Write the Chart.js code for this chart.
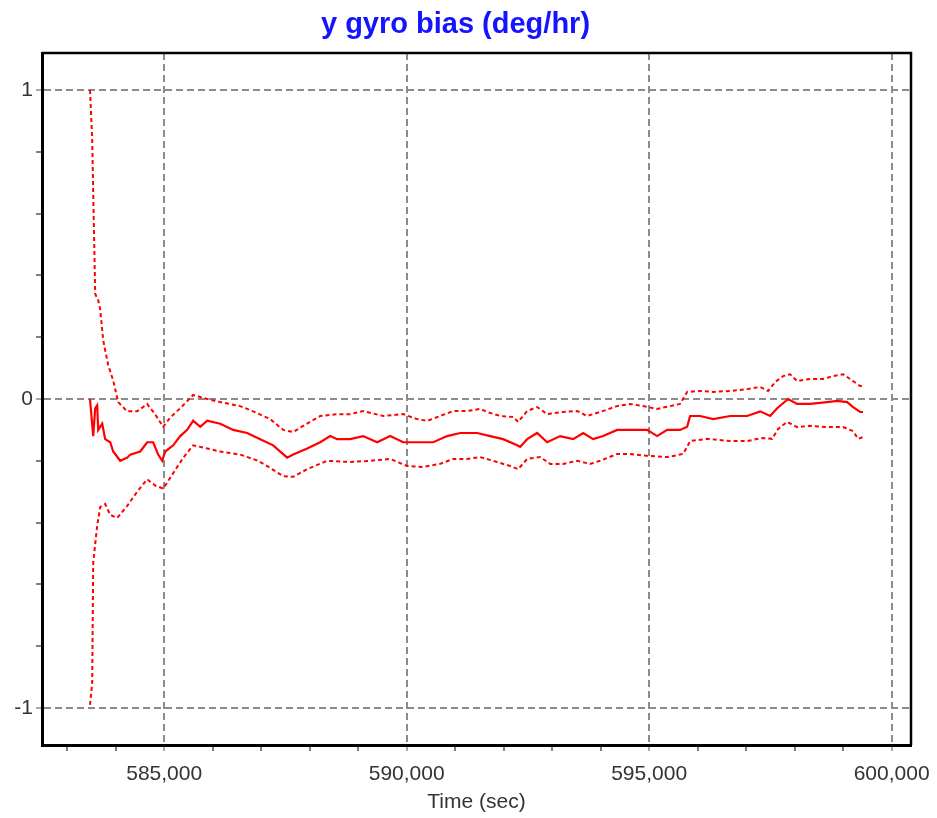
<!DOCTYPE html>
<html>
<head>
<meta charset="utf-8">
<title>y gyro bias</title>
<script src="https://cdn.jsdelivr.net/npm/chart.js@4/dist/chart.umd.min.js"></script>
<style>
  html, body { margin: 0; padding: 0; background: #fff; }
  #wrap { width: 937px; height: 818px; }
</style>
</head>
<body>
<div id="wrap"><canvas id="bias-chart" width="937" height="818"></canvas></div>
<script>
// Time stamps (sec) and bias estimate (deg/hr)
const meanTime = [583470, 583536, 583577, 583618, 583639, 583722, 583783, 583887, 583948, 584093,
  584237, 584299, 584505, 584649, 584773, 584876, 584959, 585021, 585186, 585330,
  585474, 585598, 585742, 585887, 586155, 586423, 586711, 586980, 587248, 587536,
  587660, 587949, 588217, 588423, 588567, 588835, 589103, 589392, 589660, 589928,
  590217, 590547, 590835, 591104, 591454, 591722, 591990, 592279, 592340, 592485,
  592691, 592897, 593165, 593433, 593640, 593846, 594052, 594340, 594608, 594959,
  595165, 595371, 595639, 595784, 595845, 596052, 596320, 596671, 597021, 597290,
  597495, 597640, 597866, 598052, 598320, 598671, 598877, 599083, 599206, 599351, 599412];
const meanBias = [0.0, -0.12, -0.03, -0.02, -0.10, -0.08, -0.13, -0.14, -0.17, -0.20,
  -0.19, -0.18, -0.17, -0.14, -0.14, -0.18, -0.20, -0.17, -0.15, -0.12,
  -0.10, -0.07, -0.09, -0.07, -0.08, -0.10, -0.11, -0.13, -0.15, -0.19,
  -0.18, -0.16, -0.14, -0.12, -0.13, -0.13, -0.12, -0.14, -0.12, -0.14,
  -0.14, -0.14, -0.12, -0.11, -0.11, -0.12, -0.13, -0.15, -0.155, -0.13,
  -0.11, -0.14, -0.12, -0.13, -0.11, -0.13, -0.12, -0.10, -0.10, -0.10,
  -0.12, -0.10, -0.10, -0.09, -0.055, -0.055, -0.065, -0.055, -0.055, -0.04,
  -0.055, -0.03, 0.0, -0.016, -0.016, -0.01, -0.006, -0.01, -0.026, -0.042, -0.042];

// Upper 1-sigma bound
const upperTime = [583470, 583515, 583577, 583639, 583680, 583742, 583845, 583948, 584051, 584237,
  584443, 584649, 584814, 584979, 585124, 585330, 585598, 585887, 586155, 586567,
  586835, 587186, 587454, 587660, 587866, 588217, 588567, 588835, 589103, 589516,
  589928, 590217, 590423, 590691, 590959, 591248, 591516, 591660, 591928, 592196,
  592299, 592485, 592691, 592897, 593227, 593516, 593722, 593990, 594340, 594608,
  594876, 595165, 595433, 595639, 595784, 596052, 596320, 596671, 597021, 597290,
  597454, 597598, 597763, 597907, 598052, 598320, 598588, 598794, 599000, 599206, 599351, 599412];
const upperBias = [1.0, 0.84, 0.34, 0.32, 0.29, 0.19, 0.11, 0.06, -0.01, -0.04,
  -0.04, -0.016, -0.05, -0.09, -0.06, -0.03, 0.013, 0.0, -0.01, -0.023,
  -0.04, -0.065, -0.10, -0.107, -0.087, -0.055, -0.049, -0.049, -0.039, -0.055,
  -0.049, -0.065, -0.071, -0.055, -0.039, -0.039, -0.032, -0.042, -0.055, -0.058,
  -0.074, -0.039, -0.026, -0.049, -0.042, -0.039, -0.055, -0.042, -0.023, -0.016,
  -0.023, -0.032, -0.023, -0.016, 0.023, 0.026, 0.023, 0.026, 0.032, 0.039,
  0.026, 0.055, 0.074, 0.08, 0.058, 0.065, 0.065, 0.074, 0.08, 0.058, 0.042, 0.042];

// Lower 1-sigma bound
const lowerTime = [583470, 583515, 583536, 583618, 583680, 583783, 583887, 584031, 584237, 584443,
  584649, 584814, 584979, 585186, 585392, 585598, 585887, 586155, 586567, 586938,
  587124, 587454, 587660, 587949, 588361, 588835, 589248, 589660, 590010, 590340,
  590691, 590959, 591248, 591516, 591866, 592134, 592299, 592485, 592753, 592959,
  593227, 593516, 593784, 593990, 594340, 594608, 594959, 595371, 595701, 595784,
  595845, 596196, 596671, 597021, 597351, 597536, 597660, 597845, 598052, 598320,
  598671, 599000, 599206, 599309, 599412];
const lowerBias = [-0.99, -0.92, -0.53, -0.41, -0.35, -0.34, -0.375, -0.385, -0.346, -0.30,
  -0.26, -0.28, -0.29, -0.24, -0.19, -0.15, -0.16, -0.17, -0.18, -0.20,
  -0.217, -0.25, -0.252, -0.227, -0.20, -0.204, -0.20, -0.194, -0.217, -0.22,
  -0.21, -0.194, -0.194, -0.188, -0.204, -0.217, -0.227, -0.194, -0.188, -0.21,
  -0.21, -0.20, -0.21, -0.20, -0.178, -0.178, -0.184, -0.188, -0.178, -0.155,
  -0.136, -0.129, -0.136, -0.136, -0.126, -0.129, -0.097, -0.074, -0.091, -0.087,
  -0.091, -0.091, -0.104, -0.129, -0.123];

// Axis ticks (majors get a label and a grid line)
const xTicks = [583000, 584000, 585000, 586000, 587000, 588000, 589000, 590000, 591000,
  592000, 593000, 594000, 595000, 596000, 597000, 598000, 599000, 600000];
const xMajorTicks = [585000, 590000, 595000, 600000];
const yTicks = [-1, -0.8, -0.6, -0.4, -0.2, 0, 0.2, 0.4, 0.6, 0.8, 1];
const yMajorTicks = [-1, 0, 1];

const GRID_GRAY = "#8c8c8c";

function toPoints(times, values) {
  return times.map((t, i) => ({ x: t, y: values[i] }));
}

function isMajor(list, v) {
  return list.some((m) => Math.abs(m - v) < 1e-6);
}

// box lines on top and right of the plot
const framePlugin = {
  id: "frame",
  afterDraw(chart) {
    const { ctx, chartArea } = chart;
    ctx.save();
    ctx.strokeStyle = "#000";
    ctx.lineWidth = 2.5;
    ctx.beginPath();
    ctx.moveTo(chartArea.left, chartArea.top);
    ctx.lineTo(chartArea.right, chartArea.top);
    ctx.lineTo(chartArea.right, chartArea.bottom);
    ctx.stroke();
    ctx.restore();
  },
};

function initBiasChart() {
  Chart.defaults.font.family = "'Liberation Sans', Arial, sans-serif";
  const ctx = document.getElementById("bias-chart").getContext("2d");

  const data = {
    datasets: [
      {
        label: "upper",
        data: toPoints(upperTime, upperBias),
        borderColor: "#ff0000",
        borderWidth: 2,
        borderDash: [4, 3],
        pointRadius: 0,
      },
      {
        label: "bias",
        data: toPoints(meanTime, meanBias),
        borderColor: "#ff0000",
        borderWidth: 2.2,
        pointRadius: 0,
      },
      {
        label: "lower",
        data: toPoints(lowerTime, lowerBias),
        borderColor: "#ff0000",
        borderWidth: 2,
        borderDash: [4, 3],
        pointRadius: 0,
      },
    ],
  };

  const config = {
    type: "line",
    data,
    options: {
      responsive: false,
      animation: false,
      devicePixelRatio: 1,
      layout: { padding: { top: 0, right: 26, bottom: 0, left: 0 } },
      plugins: {
        legend: { display: false },
        tooltip: { enabled: false },
        title: {
          display: true,
          text: "y gyro bias (deg/hr)",
          color: "#1414ff",
          font: { size: 29, weight: "bold" },
          padding: { top: 8, bottom: 10.2 },
        },
      },
      scales: {
        x: {
          type: "linear",
          min: 582480,
          max: 600400,
          afterBuildTicks: (scale) => { scale.ticks = xTicks.map((value) => ({ value })); },
          afterFit: (scale) => {
            scale.height = 73;
            // keep the last label from squeezing the plot
            scale.paddingLeft = 0;
            scale.paddingRight = 0;
          },
          border: { display: true, color: "#000", width: 3, dash: [7, 4] },
          grid: {
            lineWidth: 2,
            tickLength: 6,
            color: (c) => (isMajor(xMajorTicks, c.tick.value) ? GRID_GRAY : "rgba(0,0,0,0)"),
            tickColor: (c) => (isMajor(xMajorTicks, c.tick.value) ? GRID_GRAY : "#555"),
            tickWidth: 1.5,
          },
          ticks: {
            maxRotation: 0,
            autoSkip: false,
            padding: 11,
            color: "#333",
            font: { size: 21 },
            callback: (v) => (isMajor(xMajorTicks, v) ? Number(v).toLocaleString("en-US") : ""),
          },
          title: {
            display: true,
            text: "Time (sec)",
            color: "#333",
            font: { size: 21 },
            padding: { top: 0, bottom: 3.4 },
          },
        },
        y: {
          min: -1.12,
          max: 1.12,
          afterBuildTicks: (scale) => { scale.ticks = yTicks.map((value) => ({ value })); },
          afterFit: (scale) => { scale.width = 42; },
          border: { display: true, color: "#000", width: 3, dash: [7, 4] },
          grid: {
            lineWidth: 2,
            tickLength: 6,
            color: (c) => (isMajor(yMajorTicks, c.tick.value) ? GRID_GRAY : "rgba(0,0,0,0)"),
            tickColor: (c) => (isMajor(yMajorTicks, c.tick.value) ? GRID_GRAY : "#555"),
            tickWidth: 1.5,
          },
          ticks: {
            autoSkip: false,
            padding: 3,
            color: "#333",
            font: { size: 21 },
            callback: (v) => (isMajor(yMajorTicks, v) ? String(Math.round(v)) : ""),
          },
        },
      },
    },
    plugins: [framePlugin],
  };

  new Chart(ctx, config);
}

document.addEventListener("DOMContentLoaded", initBiasChart);
</script>
</body>
</html>
